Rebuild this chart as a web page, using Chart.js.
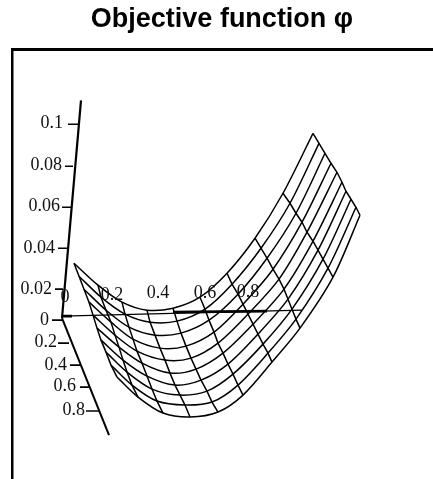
<!DOCTYPE html>
<html>
<head>
<meta charset="utf-8">
<style>html,body{margin:0;padding:0;background:#fff}canvas{display:block}</style>
<script src="https://cdn.jsdelivr.net/npm/chart.js@4"></script>
</head>
<body>
<canvas id="c" width="433" height="479"></canvas>
<script>
const titleText = "Objective function φ";
const col0X = [74,79,84,89,93,97,101,106,111,117];
const col0Y = [263,276,289,302,315,328,340,352,365,377];
const col1X = [98,101,106,111,115,119,123,127,132,138];
const col1Y = [285,297,310,322,335,347,360,372,385,397];
const col2X = [122,125,129,133,137,142,147,152,157,163];
const col2Y = [302,314,327,339,351,363,376,389,401,413];
const col3X = [147,150,155,160,165,170,175,180,185,190];
const col3Y = [310,322,335,348,360,373,385,395,405,417];
const col4X = [173,177,181,186,191,196,201,207,212,218];
const col4Y = [308,321,333,346,358,369,380,391,402,412];
const col5X = [200,205,209,214,218,223,228,233,238,243];
const col5Y = [297,309,320,332,343,353,364,374,385,395];
const col6X = [227,232,238,243,248,253,258,263,268,272];
const col6Y = [273,284,294,304,314,324,334,344,353,362];
const col7X = [255,261,267,273,279,284,288,292,296,300];
const col7Y = [238,248,258,269,279,289,299,309,319,328];
const col8X = [283,290,296,302,307,313,318,323,328,333];
const col8Y = [193,203,213,222,232,241,250,259,268,277];
const col9X = [313,319,325,331,337,342,346,351,356,360];
const col9Y = [133,143,153,163,172,182,191,199,207,215];
const colsX = [col0X,col1X,col2X,col3X,col4X,col5X,col6X,col7X,col8X,col9X];
const colsY = [col0Y,col1Y,col2Y,col3Y,col4Y,col5Y,col6Y,col7Y,col8Y,col9Y];

const zLabels = ["0.1","0.08","0.06","0.04","0.02","0"];
const zLabelX = [63,62,60,55,52,49];
const zLabelY = [123,165,206,248,289,320];
const zTickX0 = [68,65,62,58,55,52];
const zTickX1 = [78,73,71,67,63,62];
const zTickY = [124,166,207,248,289,320];

const yLabels = ["0.2","0.4","0.6","0.8"];
const yLabelX = [57,67,76,85];
const yLabelY = [342,365,386,410];
const yTickX0 = [58,70,80,86];
const yTickX1 = [69,80,90,99];
const yTickY = [343,365,387,411];

const xLabels = ["0","0.2","0.4","0.6","0.8"];
const xLabelX = [65,112,158,205,248];
const xLabelY = [297,295,293,293,292];

const zAxisX = [62,81], zAxisY = [318,100];
const xAxisX = [62,302], xAxisY = [316,310];
const xHeavyX = [173,267], xHeavyY = [312,311];
const originHeavyX = [62,72], originHeavyY = [316,316];
const yAxisX = [62,109], yAxisY = [318,435];
const frameX = [12,12,433], frameY = [479,49,49];

const zip = (xs, ys) => xs.map((x, i) => ({x, y: ys[i]}));
const line = (xs, ys, w, t) => ({data: zip(xs, ys), showLine: true, borderColor: "#000", borderWidth: w, pointRadius: 0, tension: t || 0, fill: false});

const datasets = [];
colsX.forEach((xs, i) => datasets.push(line(xs, colsY[i], 1.5)));
col0X.forEach((_, r) => datasets.push(line(colsX.map(c => c[r]), colsY.map(c => c[r]), 1.5, 0.3)));
datasets.push(line(frameX, frameY, 3));
datasets.push(line(zAxisX, zAxisY, 2.2));
datasets.push(line(xAxisX, xAxisY, 1.4));
datasets.push(line(xHeavyX, xHeavyY, 2.6));
datasets.push(line(originHeavyX, originHeavyY, 2.6));
datasets.push(line(yAxisX, yAxisY, 2));
zTickY.forEach((y, i) => datasets.push(line([zTickX0[i], zTickX1[i]], [y, y], 1.6)));
yTickY.forEach((y, i) => datasets.push(line([yTickX0[i], yTickX1[i]], [y, y], 1.6)));

const axisText = {
  id: "axisText",
  afterDatasetsDraw(chart) {
    const {ctx, scales: {x, y}} = chart;
    ctx.save();
    ctx.fillStyle = "#111";
    ctx.font = '18px "Liberation Serif"';
    ctx.textBaseline = "middle";
    ctx.textAlign = "right";
    zLabels.forEach((t, i) => ctx.fillText(t, x.getPixelForValue(zLabelX[i]), y.getPixelForValue(zLabelY[i])));
    yLabels.forEach((t, i) => ctx.fillText(t, x.getPixelForValue(yLabelX[i]), y.getPixelForValue(yLabelY[i])));
    ctx.textAlign = "center";
    xLabels.forEach((t, i) => ctx.fillText(t, x.getPixelForValue(xLabelX[i]), y.getPixelForValue(xLabelY[i])));
    ctx.restore();
  }
};

new Chart(document.getElementById("c"), {
  type: "scatter",
  data: {datasets},
  plugins: [axisText],
  options: {
    responsive: false,
    animation: false,
    layout: {padding: {left: 11, right: 0, top: 0, bottom: 0}},
    plugins: {
      legend: {display: false},
      tooltip: {enabled: false},
      title: {
        display: true,
        text: titleText,
        color: "#000",
        font: {family: '"Liberation Sans"', size: 27, weight: "bold"},
        padding: {top: 3, bottom: 5}
      }
    },
    scales: {
      x: {type: "linear", display: false, min: 11, max: 433},
      y: {type: "linear", display: false, min: 40, max: 479, reverse: true}
    }
  }
});
</script>
</body>
</html>
